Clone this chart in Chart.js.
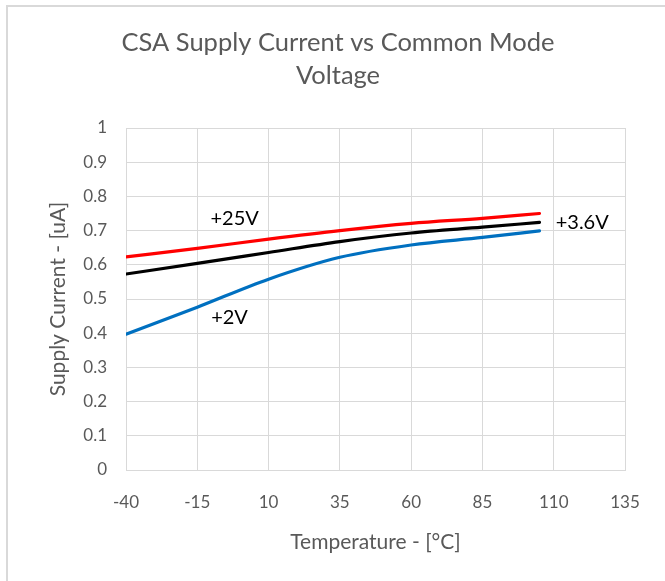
<!DOCTYPE html>
<html>
<head>
<meta charset="utf-8">
<script src="https://cdn.jsdelivr.net/npm/chart.js@4/dist/chart.umd.min.js"></script>
<style>
  html, body { margin: 0; padding: 0; background: #fff; }
  #wrap { position: relative; width: 665px; height: 581px; }
  canvas { position: absolute; left: 0; top: 0; }
  .bl { position: absolute; left: 6px; top: 5px; width: 2px; height: 576px; background: #d9d9d9; }
  .bt { position: absolute; left: 6px; top: 5px; width: 659px; height: 2px; background: #d9d9d9; }
</style>
</head>
<body>
<div id="wrap">
  <canvas id="c" width="665" height="581"></canvas>
  <div class="bl"></div>
  <div class="bt"></div>
</div>
<script>
// Temperature (°C)
const temperatures = [-40, -15, 10, 35, 60, 85, 105];
// Supply current (uA) per common mode voltage
const series25V  = [0.623, 0.648, 0.675, 0.700, 0.721, 0.736, 0.750];
const series3v6V = [0.573, 0.604, 0.636, 0.668, 0.693, 0.710, 0.724];
const series2V   = [0.397, 0.476, 0.558, 0.622, 0.658, 0.680, 0.699];
const seriesNames = ['+25V', '+3.6V', '+2V'];
// In-plot labels: [text, temperature, current]
const lineLabels = [
  ['+25V', -1.9, 0.734],
  ['+2V', -3.7, 0.446],
  ['+3.6V', 120, 0.725]
];
const xTicks = [-40, -15, 10, 35, 60, 85, 110, 135];

const FONT = 'Lato, "Open Sans", "Liberation Sans", sans-serif';
const GREY = '#595959';

const toPts = (ys) => temperatures.map((t, i) => ({ x: t, y: ys[i] }));

const labelPlugin = {
  id: 'lineLabels',
  afterDatasetsDraw(chart) {
    const { ctx, scales: { x, y } } = chart;
    ctx.save();
    ctx.font = '20px ' + FONT;
    ctx.fillStyle = '#000';
    ctx.textAlign = 'center';
    ctx.textBaseline = 'middle';
    lineLabels.forEach(([txt, tx, ty]) => {
      ctx.fillText(txt, x.getPixelForValue(tx), y.getPixelForValue(ty));
    });
    ctx.restore();
  }
};

new Chart(document.getElementById('c'), {
  type: 'line',
  data: {
    datasets: [
      { label: seriesNames[0], data: toPts(series25V), borderColor: '#ff0000' },
      { label: seriesNames[1], data: toPts(series3v6V), borderColor: '#000000' },
      { label: seriesNames[2], data: toPts(series2V), borderColor: '#0070c0' }
    ].map(d => Object.assign(d, {
      borderWidth: 3.2, pointRadius: 0, fill: false,
      cubicInterpolationMode: 'monotone', borderCapStyle: 'round'
    }))
  },
  options: {
    responsive: false,
    animation: false,
    devicePixelRatio: 1,
    layout: { padding: { left: 11, right: 0, top: 0, bottom: 0 } },
    plugins: {
      legend: { display: false },
      tooltip: { enabled: false },
      title: {
        display: true,
        text: ['CSA Supply Current vs Common Mode', 'Voltage'],
        color: GREY,
        font: { family: FONT, size: 25.5, weight: 'normal', lineHeight: 1.3 },
        padding: { top: 26.5, bottom: 35.2 }
      }
    },
    scales: {
      x: {
        type: 'linear',
        min: -40, max: 135,
        afterBuildTicks: (s) => { s.ticks = xTicks.map(v => ({ value: v })); },
        afterFit: (s) => { s.height = 111; s.paddingRight = 40; },
        ticks: { color: GREY, font: { family: FONT, size: 17 }, padding: 22 },
        grid: { color: '#d9d9d9', drawTicks: false, lineWidth: 1 },
        border: { color: '#d9d9d9' },
        title: {
          display: true, text: 'Temperature - [°C]', color: GREY,
          font: { family: FONT, size: 21 }, padding: { top: 0, bottom: 26 }
        }
      },
      y: {
        min: 0, max: 1,
        ticks: {
          stepSize: 0.1, color: GREY, font: { family: FONT, size: 17 }, padding: 19,
          callback: (v) => String(Math.round(v * 10) / 10)
        },
        afterFit: (s) => { s.width = 115; },
        grid: { color: '#d9d9d9', drawTicks: false, lineWidth: 1 },
        border: { color: '#d9d9d9' },
        title: {
          display: true, text: 'Supply Current - [uA]', color: GREY,
          font: { family: FONT, size: 21 }, padding: { top: 34.5, bottom: 0 }
        }
      }
    }
  },
  plugins: [labelPlugin]
});
</script>
</body>
</html>
